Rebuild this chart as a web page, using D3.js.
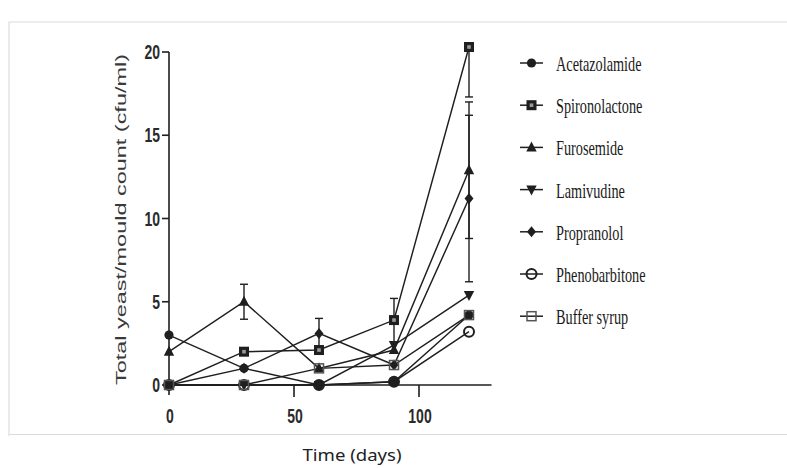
<!DOCTYPE html>
<html>
<head>
<meta charset="utf-8">
<script src="https://cdn.jsdelivr.net/npm/d3@7"></script>
<style>
  body { margin: 0; background: #fff; }
  svg { display: block; }
</style>
</head>
<body>
<div id="chart"></div>
<script>
// time points (days)
const days = [0, 30, 60, 90, 120];

// mean counts per formulation
const seriesNames = ["Acetazolamide", "Spironolactone", "Furosemide", "Lamivudine", "Propranolol", "Phenobarbitone", "Buffer syrup"];
const acetazolamide = [3, 1, 0, 0.2, 4.2];
const spironolactone = [0, 2, 2.1, 3.9, 20.3];
const furosemide = [2, 5, 1, 2.1, 12.9];
const lamivudine = [0, 0, 0, 2.4, 5.4];
const propranolol = [0, 1, 3.1, 1.2, 11.2];
const phenobarbitone = [0, 0, 0, 0.2, 3.2];
const bufferSyrup = [0, 0, 1, 1.2, 4.2];

// error bars (+/-)
const spironolactoneErr = [0, 0, 0, 1.3, 3.0];
const furosemideErr = [0, 1.05, 0, 0, 4.1];
const propranololErr = [0, 0, 0.9, 0, 5.0];

const yTicks = [0, 5, 10, 15, 20];
const xTicks = [0, 50, 100];

const width = 787, height = 468;
const ink = "#1f1f1f";

const series = [
  { name: seriesNames[0], values: acetazolamide, err: null, symbol: "circle" },
  { name: seriesNames[1], values: spironolactone, err: spironolactoneErr, symbol: "square" },
  { name: seriesNames[2], values: furosemide, err: furosemideErr, symbol: "triangleUp" },
  { name: seriesNames[3], values: lamivudine, err: null, symbol: "triangleDown" },
  { name: seriesNames[4], values: propranolol, err: propranololErr, symbol: "diamond" },
  { name: seriesNames[5], values: phenobarbitone, err: null, symbol: "openCircle" },
  { name: seriesNames[6], values: bufferSyrup, err: null, symbol: "openSquare" }
];

const svg = d3.select("#chart").append("svg").attr("width", width).attr("height", height);

// faint frame of the scanned figure
svg.append("path")
  .attr("d", "M9,436 V22 H787 M9,434.5 H787")
  .attr("fill", "none").attr("stroke", "#dcdcdc").attr("stroke-width", 1.2);

const x = d3.scaleLinear().domain([0, 129]).range([169, 491.5]);
const y = d3.scaleLinear().domain([0, 20]).range([385, 52]);

// axes
const axes = svg.append("g").attr("stroke", ink).attr("stroke-width", 1.6);
axes.append("line").attr("x1", x(0)).attr("x2", x(0)).attr("y1", y(20)).attr("y2", y(0) + 10);
axes.append("line").attr("x1", x(0)).attr("x2", x(129)).attr("y1", y(0)).attr("y2", y(0));
axes.selectAll(".yt").data(yTicks).join("line")
  .attr("x1", x(0) - 7).attr("x2", x(0)).attr("y1", d => y(d)).attr("y2", d => y(d));
axes.selectAll(".xt").data(xTicks.filter(d => d > 0)).join("line")
  .attr("x1", d => x(d)).attr("x2", d => x(d)).attr("y1", y(0)).attr("y2", y(0) + 12);

const tickFont = "'Liberation Sans', Arial, sans-serif";
svg.selectAll(".ylab").data(yTicks).join("text")
  .attr("transform", d => `translate(${x(0) - 9},${y(d)}) scale(0.7,1)`)
  .attr("text-anchor", "end").attr("dy", "0.36em")
  .attr("font-family", tickFont).attr("font-size", 20).attr("font-weight", "bold")
  .attr("fill", "#2a2a2a").text(d => d);
svg.selectAll(".xlab").data(xTicks).join("text")
  .attr("transform", d => `translate(${x(d) + 1},${y(0) + 38}) scale(0.7,1)`)
  .attr("text-anchor", "middle")
  .attr("font-family", tickFont).attr("font-size", 20).attr("font-weight", "bold")
  .attr("fill", "#2a2a2a").text(d => d);

// axis titles
svg.append("text")
  .attr("transform", `translate(126,${(y(20) + y(0)) / 2 + 1}) rotate(-90)`)
  .attr("text-anchor", "middle")
  .attr("font-family", "'Liberation Sans', Arial, sans-serif").attr("font-size", 14.5)
  .attr("textLength", 331).attr("lengthAdjust", "spacingAndGlyphs")
  .attr("fill", "#3a3a3a").text("Total yeast/mould count (cfu/ml)");

svg.append("text")
  .attr("x", 352).attr("y", 461).attr("text-anchor", "middle")
  .attr("font-family", "'Noto Sans', 'Open Sans', sans-serif").attr("font-size", 17)
  .attr("font-weight", "normal")
  .attr("textLength", 99).attr("lengthAdjust", "spacingAndGlyphs")
  .attr("fill", "#222").text("Time (days)");

// marker drawing
function drawMarker(g, type, cx, cy) {
  switch (type) {
    case "circle":
      g.append("circle").attr("cx", cx).attr("cy", cy).attr("r", 4.6).attr("fill", ink);
      break;
    case "square":
      g.append("rect").attr("x", cx - 5).attr("y", cy - 5).attr("width", 10).attr("height", 10).attr("fill", ink);
      g.append("rect").attr("x", cx - 1.8).attr("y", cy - 1.8).attr("width", 3.6).attr("height", 3.6).attr("fill", "#9a9a9a");
      break;
    case "triangleUp":
      g.append("path").attr("d", `M${cx},${cy - 6} L${cx + 5.2},${cy + 4} L${cx - 5.2},${cy + 4}Z`).attr("fill", ink);
      break;
    case "triangleDown":
      g.append("path").attr("d", `M${cx},${cy + 6} L${cx + 5.2},${cy - 4} L${cx - 5.2},${cy - 4}Z`).attr("fill", ink);
      break;
    case "diamond":
      g.append("path").attr("d", `M${cx},${cy - 5.5} L${cx + 4.5},${cy} L${cx},${cy + 5.5} L${cx - 4.5},${cy}Z`).attr("fill", ink);
      break;
    case "openCircle":
      g.append("circle").attr("cx", cx).attr("cy", cy).attr("r", 5).attr("fill", "none")
        .attr("stroke", ink).attr("stroke-width", 2);
      break;
    case "openSquare":
      g.append("rect").attr("x", cx - 4.5).attr("y", cy - 4.5).attr("width", 9).attr("height", 9).attr("fill", "none")
        .attr("stroke", "#555").attr("stroke-width", 1.5);
      break;
  }
}

// clip for error bars so nothing runs off the top of the axis
svg.append("clipPath").attr("id", "plotClip")
  .append("rect").attr("x", 0).attr("y", y(20.3)).attr("width", width).attr("height", height);

const line = d3.line().x((d, i) => x(days[i])).y(d => y(d));
const plot = svg.append("g");

// error bars
const errG = plot.append("g").attr("clip-path", "url(#plotClip)")
  .attr("stroke", ink).attr("stroke-width", 1.4);
series.filter(s => s.err).forEach(s => {
  s.values.forEach((v, i) => {
    const e = s.err[i];
    if (!e) return;
    const cx = x(days[i]);
    errG.append("line").attr("x1", cx).attr("x2", cx).attr("y1", y(v - e)).attr("y2", y(v + e));
    [v - e, v + e].forEach(t => {
      errG.append("line").attr("x1", cx - 4).attr("x2", cx + 4).attr("y1", y(t)).attr("y2", y(t));
    });
  });
});

// lines
series.forEach(s => {
  plot.append("path").attr("d", line(s.values))
    .attr("fill", "none").attr("stroke", ink).attr("stroke-width", 1.45);
});

// markers, open symbols last
series.forEach(s => {
  const g = plot.append("g");
  s.values.forEach((v, i) => drawMarker(g, s.symbol, x(days[i]), y(v)));
});

// legend
const legend = svg.append("g");
series.forEach((s, i) => {
  const ly = 63 + i * 42.2;
  legend.append("line").attr("x1", 520).attr("x2", 543).attr("y1", ly).attr("y2", ly)
    .attr("stroke", ink).attr("stroke-width", 1.5);
  drawMarker(legend, s.symbol, 531.5, ly);
  legend.append("text")
    .attr("transform", `translate(556,${ly + 8}) scale(0.68,1)`)
    .attr("font-family", "'Liberation Serif', 'Times New Roman', serif").attr("font-size", 21)
    .attr("fill", "#1a1a1a").text(s.name);
});
</script>
</body>
</html>
